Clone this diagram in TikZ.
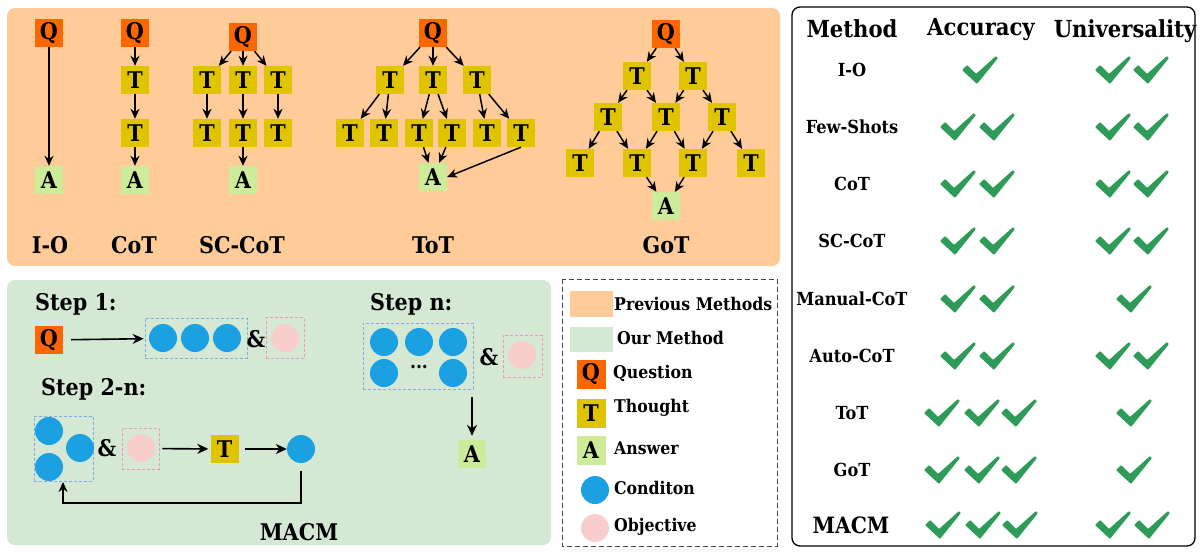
\documentclass[tikz,border=0pt]{standalone}
\usepackage{fontspec}
\setmainfont{DejaVu Serif Condensed}
\usetikzlibrary{arrows.meta, positioning}

\definecolor{peach}{RGB}{255,204,153}
\definecolor{mint}{RGB}{213,232,212}
\definecolor{qorange}{RGB}{255,102,0}
\definecolor{tyellow}{RGB}{224,196,0}
\definecolor{agreen}{RGB}{204,236,153}
\definecolor{condblue}{RGB}{27,161,226}
\definecolor{objpink}{RGB}{248,206,204}
\definecolor{dashblue}{RGB}{126,170,230}
\definecolor{dashpink}{RGB}{236,150,190}
\definecolor{tickgreen}{RGB}{46,155,88}
\definecolor{legendgray}{RGB}{70,70,70}

\newcommand{\bsize}[1]{\fontsize{#1}{#1}\selectfont\bfseries}

\begin{document}
\begin{tikzpicture}[
  x=1pt, y=-1pt,
  qbox/.style = {fill=qorange, minimum size=28pt, inner sep=0pt, font=\bsize{23}},
  tbox/.style = {qbox, fill=tyellow},
  abox/.style = {qbox, fill=agreen},
  cond/.style = {circle, fill=condblue, minimum size=28pt, inner sep=0pt},
  obj/.style = {circle, fill=objpink, minimum size=28pt, inner sep=0pt},
  arrow/.style = {line width=1.5pt, -{Stealth[length=10pt, width=9pt]}},
  bigarrow/.style = {line width=1.6pt, -{Stealth[length=11pt, width=10pt]}},
  method/.style = {font=\bsize{23}, anchor=base},
  steplab/.style = {font=\bsize{23}, anchor=base west, inner sep=0pt},
  amp/.style = {font=\bsize{23}},
  bluegroup/.style = {draw=dashblue, dash pattern=on 3pt off 2pt, line width=0.8pt, inner sep=0pt},
  pinkgroup/.style = {bluegroup, draw=dashpink},
  legtext/.style = {font=\bsize{17.5}, anchor=west, inner sep=0pt},
  rowlab/.style = {font=\bsize{18}},
  head/.style = {font=\bsize{23.5}, anchor=base},
  checkmark/.pic = {\fill[tickgreen, rounded corners=1pt] (-18,0) -- (-13,-5) -- (-4,4) -- (16,-14) -- (18,-12) -- (-3,14) -- cycle;}
]
  \useasboundingbox (0,0) rectangle (1200,552);

  % Previous methods panel
  \fill[peach, rounded corners=8pt] (7,8) rectangle (780,266);

  % I-O
  \node[qbox] (io_q) at (49,33) {Q};
  \node[abox] (io_a) at (49,180) {A};
  \draw[arrow] (io_q) -- (io_a);
  \node[method] (io_lab) at (50,253) {I-O};

  % CoT
  \node[qbox] (cot_q) at (135,33) {Q};
  \node[tbox] (cot_t1) at (135,80) {T};
  \node[tbox] (cot_t2) at (135,133) {T};
  \node[abox] (cot_a) at (135,180) {A};
  \draw[arrow] (cot_q) -- (cot_t1);
  \draw[arrow] (cot_t1) -- (cot_t2);
  \draw[arrow] (cot_t2) -- (cot_a);
  \node[method] (cot_lab) at (134,253) {CoT};

  % SC-CoT
  \node[qbox] (sc_q) at (243,37) {Q};
  \foreach \x [count=\i] in {207,243,278} {
    \node[tbox] (sc_t\i) at (\x,80) {T};
    \node[tbox] (sc_u\i) at (\x,133) {T};
    \draw[arrow] (sc_q) -- (sc_t\i);
    \draw[arrow] (sc_t\i) -- (sc_u\i);
  }
  \node[abox] (sc_a) at (243,180) {A};
  \draw[arrow] (sc_u2) -- (sc_a);
  \node[method] (sc_lab) at (242,253) {SC-CoT};

  % ToT
  \node[qbox] (tot_q) at (433,33) {Q};
  \foreach \x [count=\i] in {390,433,477} {
    \node[tbox] (tot_t\i) at (\x,80) {T};
    \draw[arrow] (tot_q) -- (tot_t\i);
  }
  \foreach \x [count=\i] in {350,384,419,452,487,521}
    \node[tbox] (tot_u\i) at (\x,133) {T};
  \foreach \p/\c in {1/1,1/2,2/3,2/4,3/5,3/6}
    \draw[arrow] (tot_t\p) -- (tot_u\c);
  \node[abox] (tot_a) at (433,177) {A};
  \draw[arrow] (tot_u3) -- (tot_a);
  \draw[arrow] (tot_u4) -- (tot_a);
  \draw[arrow] (tot_u6.south) -- (tot_a.east);
  \node[method] (tot_lab) at (433,253) {ToT};

  % GoT
  \node[qbox] (got_q) at (666,34) {Q};
  \foreach \x [count=\i] in {637,693}
    \node[tbox] (got_a\i) at (\x,76) {T};
  \foreach \x [count=\i] in {608,666,722}
    \node[tbox] (got_b\i) at (\x,117) {T};
  \foreach \x [count=\i] in {580,637,693,751}
    \node[tbox] (got_c\i) at (\x,163) {T};
  \node[abox] (got_ans) at (666,206) {A};
  \draw[arrow] (got_q) -- (got_a1);
  \draw[arrow] (got_q) -- (got_a2);
  \foreach \p/\c in {1/1,1/2,2/2,2/3}
    \draw[arrow] (got_a\p) -- (got_b\c);
  \foreach \p/\c in {1/1,1/2,2/2,2/3,3/3,3/4}
    \draw[arrow] (got_b\p) -- (got_c\c);
  \draw[arrow] (got_c2) -- (got_ans);
  \draw[arrow] (got_c3) -- (got_ans);
  \node[method] (got_lab) at (666,253) {GoT};

  % Our method panel
  \fill[mint, rounded corners=8pt] (7,280) rectangle (551,545);

  % Step 1
  \node[steplab] (s1_lab) at (35,310) {Step 1:};
  \node[qbox] (s1_q) at (49,340) {Q};
  \node[bluegroup, minimum width=102pt, minimum height=40pt] (s1_c) at (196,338) {};
  \foreach \x [count=\i] in {163,195,227}
    \node[cond] (s1_c\i) at (\x,338) {};
  \node[amp] (s1_amp) at (256,339) {\&};
  \node[pinkgroup, minimum width=38pt, minimum height=41pt] (s1_p) at (285,338) {};
  \node[obj] (s1_o) at (285,338) {};
  \draw[bigarrow, shorten <=8pt, shorten >=1pt] (s1_q) -- (s1_c);

  % Step 2-n
  \node[steplab] (s2_lab) at (41,395) {Step 2-n:};
  \node[bluegroup, minimum width=59pt, minimum height=65pt] (s2_c) at (63.5,448.5) {};
  \node[cond] (s2_c1) at (49,431) {};
  \node[cond] (s2_c2) at (80,448) {};
  \node[cond] (s2_c3) at (49,467) {};
  \node[amp] (s2_amp) at (107,448) {\&};
  \node[pinkgroup, minimum width=37pt, minimum height=41pt] (s2_p) at (140.5,448.5) {};
  \node[obj] (s2_o) at (141,448) {};
  \node[tbox] (s2_t) at (224.5,449) {T};
  \node[cond] (s2_new) at (301,449) {};
  \draw[bigarrow, shorten <=3pt, shorten >=2pt] (s2_p) -- (s2_t);
  \draw[bigarrow, shorten <=6pt] (s2_t) -- (s2_new);
  \coordinate (s2_back) at (63,482);
  \draw[arrow, shorten <=8pt] (s2_new) -- (301,503) -| (s2_back);

  % Step n
  \node[steplab] (sn_lab) at (370,310) {Step n:};
  \node[bluegroup, minimum width=110pt, minimum height=66pt] (sn_c) at (418,356) {};
  \foreach \x/\y [count=\i] in {384/342,419/342,453/342,384/373,453/373}
    \node[cond] (sn_c\i) at (\x,\y) {};
  \node[font=\bsize{19}] (sn_dots) at (419,367) {...};
  \node[amp] (sn_amp) at (489,357) {\&};
  \node[pinkgroup, minimum width=39pt, minimum height=42pt] (sn_p) at (522.5,356) {};
  \node[obj] (sn_o) at (522,355) {};
  \node[abox] (sn_a) at (472,454) {A};
  \coordinate (sn_out) at (472,397);
  \draw[bigarrow, shorten >=4pt] (sn_out) -- (sn_a);

  \node[font=\bsize{23}, anchor=base] (macm_lab) at (299,540) {MACM};

  % Legend
  \draw[legendgray, line width=1pt, dash pattern=on 5pt off 3pt] (562,279) rectangle (777,546);
  \fill[peach] (570,291) rectangle (613,317);
  \fill[mint] (570,327) rectangle (613,352);
  \node[legtext] (leg_prev) at (614,304) {Previous Methods};
  \node[legtext] (leg_our) at (617,338) {Our Method};
  \node[qbox, minimum size=29pt] (leg_q) at (591,374) {Q};
  \node[tbox, minimum size=29pt] (leg_t) at (591,413) {T};
  \node[abox, minimum size=29pt] (leg_a) at (591,450) {A};
  \node[cond] (leg_c) at (595,490) {};
  \node[obj] (leg_o) at (595,528) {};
  \node[legtext] (leg_qt) at (613,373) {Question};
  \node[legtext] (leg_tt) at (614,408) {Thought};
  \node[legtext] (leg_at) at (614,448) {Answer};
  \node[legtext] (leg_ct) at (614,488) {Conditon};
  \node[legtext] (leg_ot) at (614,527) {Objective};

  % Comparison table
  \draw[line width=1.3pt, rounded corners=8pt] (792,7) rectangle (1195,546);
  \node[head] (h_meth) at (852,37) {Method};
  \node[head] (h_acc) at (981,35) {Accuracy};
  \node[head] (h_uni) at (1125,37) {Universality};
  \foreach \meth/\yy/\na/\nu [count=\i] in {I-O/70/1/2, Few-Shots/127/2/2, CoT/184/2/2,
      SC-CoT/241/2/2, Manual-CoT/299/2/1, Auto-CoT/356/2/2, ToT/413/3/1, GoT/470/3/1} {
    \node[rowlab] (row\i) at (852,\yy) {\meth};
    \ifnum\na=1 \pic at (980,\yy) {checkmark}; \fi
    \ifnum\na=2 \pic at (958,\yy) {checkmark}; \pic at (997,\yy) {checkmark}; \fi
    \ifnum\na=3 \pic at (942,\yy) {checkmark}; \pic at (982,\yy) {checkmark}; \pic at (1019,\yy) {checkmark}; \fi
    \ifnum\nu=1 \pic at (1134,\yy) {checkmark}; \fi
    \ifnum\nu=2 \pic at (1113,\yy) {checkmark}; \pic at (1151,\yy) {checkmark}; \fi
  }
  \node[font=\bsize{22.5}] (row_macm) at (851,525) {MACM};
  \foreach \x in {943,983,1020} \pic at (\x,525) {checkmark};
  \foreach \x in {1113,1152} \pic at (\x,525) {checkmark};

\end{tikzpicture}
\end{document}
